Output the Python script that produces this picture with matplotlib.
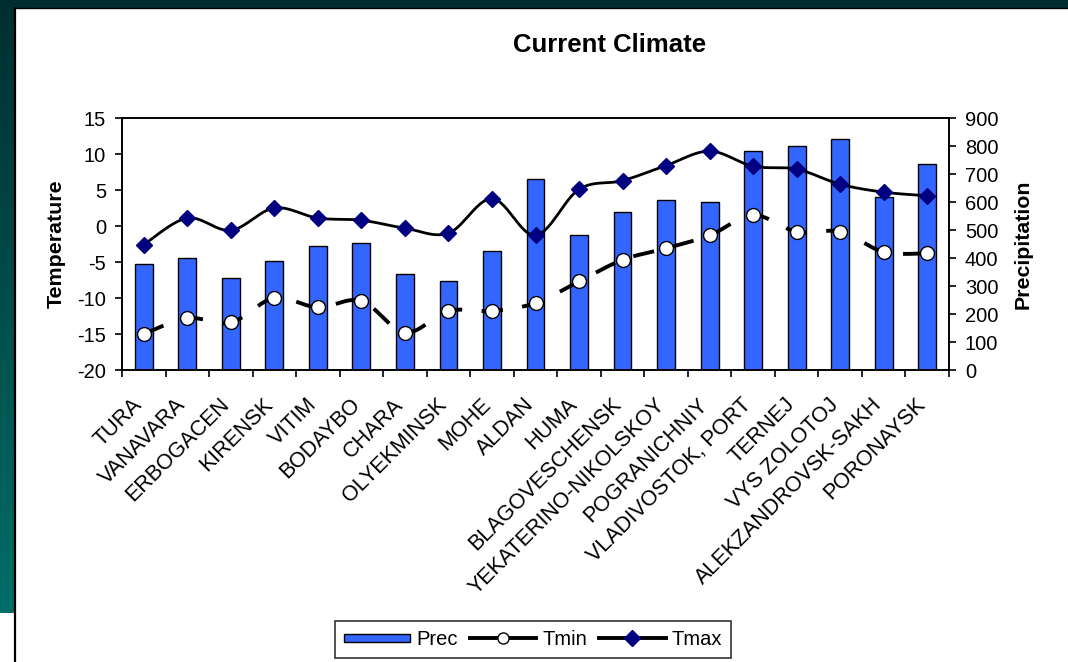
import numpy as np
import matplotlib
matplotlib.use("Agg")
import matplotlib.pyplot as plt
from matplotlib.patches import Rectangle, Patch
from matplotlib.lines import Line2D
from matplotlib.legend_handler import HandlerPatch
from matplotlib.transforms import ScaledTranslation

plt.rcParams['font.family'] = ['Liberation Sans', 'DejaVu Sans']
plt.rcParams['axes.unicode_minus'] = False

stations = ["TURA", "VANAVARA", "ERBOGACEN", "KIRENSK", "VITIM", "BODAYBO",
            "CHARA", "OLYEKMINSK", "MOHE", "ALDAN", "HUMA", "BLAGOVESCHENSK",
            "YEKATERINO-NIKOLSKOY", "POGRANICHNIY", "VLADIVOSTOK, PORT",
            "TERNEJ", "VYS ZOLOTOJ", "ALEKZANDROVSK-SAKH", "PORONAYSK"]
prec = [377, 399, 329, 388, 442, 452, 342, 318, 424, 683, 483, 565,
        607, 601, 783, 801, 825, 619, 736]
tmin = [-15.0, -12.8, -13.4, -10.0, -11.3, -10.4, -14.8, -11.8, -11.8, -10.7,
        -7.7, -4.7, -3.1, -1.3, 1.5, -0.8, -0.8, -3.6, -3.8]
tmax = [-2.6, 1.1, -0.6, 2.5, 1.1, 0.8, -0.3, -1.0, 3.8, -1.3,
        5.1, 6.3, 8.4, 10.4, 8.3, 7.9, 5.8, 4.7, 4.2]


def smooth(xs, ys, n=30):
    # cubic Bezier smoothing through every point (Catmull-Rom style)
    p = np.column_stack([xs, ys]).astype(float)
    ext = np.vstack([p[0], p, p[-1]])
    t = np.linspace(0, 1, n)[:, None]
    out = []
    for i in range(len(p) - 1):
        p0, p1, p2, p3 = ext[i], ext[i + 1], ext[i + 2], ext[i + 3]
        c1 = p1 + (p2 - p0) / 6
        c2 = p2 - (p3 - p1) / 6
        seg = ((1 - t) ** 3) * p1 + 3 * ((1 - t) ** 2) * t * c1 \
            + 3 * (1 - t) * t ** 2 * c2 + t ** 3 * p2
        out.append(seg if i == 0 else seg[1:])
    out = np.vstack(out)
    return out[:, 0], out[:, 1]


W, H = 1068, 662
fig = plt.figure(figsize=(W / 100, H / 100), dpi=100)

# slide background behind the chart panel
bg = fig.add_axes([0, 0, 1, 1], zorder=-10)
bg.set_xlim(0, W)
bg.set_ylim(H, 0)
bg.axis('off')
grad = np.linspace(0, 1, 256)[:, None]
top = np.array([0x00, 0x2e, 0x30]) / 255
bot = np.array([0x00, 0x6e, 0x68]) / 255
img = top + grad[..., None] * (bot - top)
img = np.repeat(img, 2, axis=1)
bg.imshow(img, extent=[0, W, 613, 0], aspect='auto')
bg.add_patch(Rectangle((15, 8), W - 15, H - 8, facecolor='white',
                       edgecolor='none'))
bg.add_patch(Rectangle((0, 613), 15, H - 613, facecolor='white',
                       edgecolor='none'))
bg.plot([15, 15], [8, H], color='black', lw=1.6)
bg.plot([15, W], [8, 8], color='black', lw=1.0)

x = np.arange(len(stations))

ax2 = fig.add_axes([122 / W, 1 - 370 / H, 827 / W, 252 / H])
ax = ax2.twinx()
ax.yaxis.tick_left()
ax.yaxis.set_label_position('left')
ax2.yaxis.tick_right()
ax2.yaxis.set_label_position('right')

ax2.bar(x, prec, width=0.41, color='#3366FF', edgecolor='black',
        linewidth=1.0, zorder=2)
ax2.set_ylim(0, 900)
ax2.set_yticks(np.arange(0, 901, 100))
ax2.set_ylabel("Precipitation", fontsize=15.4, fontweight='bold', labelpad=11)

sx, sy = smooth(x, tmax)
ax.plot(sx, sy, color='black', lw=2.0, zorder=3)
ax.plot(x, tmax, ls='none', marker='D', ms=7.8, color='#000080',
        markeredgecolor='#000080', zorder=4)

sx, sy = smooth(x, tmin)
ax.plot(sx, sy, color='black', lw=2.8, dashes=(5.5, 5), zorder=3)
ax.plot(x, tmin, ls='none', marker='o', ms=10, markerfacecolor='white',
        markeredgecolor='black', markeredgewidth=1.0, zorder=4)

ax.set_ylim(-20, 15)
ax.set_yticks(np.arange(-20, 16, 5))
ax.set_ylabel("Temperature", fontsize=15.4, fontweight='bold', labelpad=8)
ax.set_zorder(ax2.get_zorder() + 1)
ax.patch.set_visible(False)

for a in (ax, ax2):
    a.set_xlim(-0.5, len(stations) - 0.5)
    for s in a.spines.values():
        s.set_linewidth(1.2)
    a.tick_params(axis='y', labelsize=14.5, length=5, width=1.2,
                  direction='out', pad=6.5)

ax2.set_xticks(x)
ax2.set_xticklabels(stations, rotation=45, ha='right', rotation_mode='anchor',
                    fontsize=15.5)
ax2.set_xticks(np.arange(-0.5, len(stations)), minor=True)
ax2.tick_params(axis='x', which='major', length=0, pad=8)
ax2.tick_params(axis='x', which='minor', length=5, width=1.2, direction='out')
shift = ScaledTranslation(-12 / 100, -13 / 100, fig.dpi_scale_trans)
for lab in ax2.get_xticklabels():
    lab.set_transform(lab.get_transform() + shift)

fig.text(610 / W, 1 - 45 / H, "Current Climate", ha='center', va='center',
         fontsize=18.5, fontweight='bold')


def thin_box(legend, orig_handle, xdescent, ydescent, width, height, fontsize):
    return Rectangle((-xdescent, -ydescent + height * 0.2), width, height * 0.6)


handles = [
    Patch(facecolor='#3366FF', edgecolor='black', linewidth=1.0),
    Line2D([], [], color='black', lw=2.8, marker='o', ms=8,
           markerfacecolor='white', markeredgecolor='black'),
    Line2D([], [], color='black', lw=2.8, marker='D', ms=8,
           markerfacecolor='#000080', markeredgecolor='#000080'),
]
leg = fig.legend(handles, ["Prec", "Tmin", "Tmax"], ncol=3,
                 loc='center', bbox_to_anchor=(533 / W, 1 - 639.5 / H),
                 fontsize=14.5, frameon=True, fancybox=False,
                 edgecolor='black', handlelength=3.3, handletextpad=0.3,
                 columnspacing=0.6, borderpad=0.45,
                 handler_map={Patch: HandlerPatch(patch_func=thin_box)})
leg.get_frame().set_linewidth(1.2)

fig.savefig("out.png", dpi=100)
